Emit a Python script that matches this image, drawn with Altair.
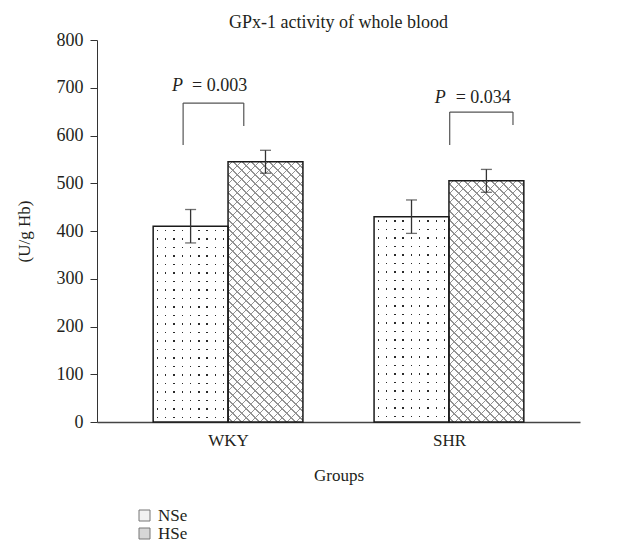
import altair as alt
import pandas as pd

# ---------------- data ----------------
groups = ["WKY", "SHR"]
treatments = ["NSe", "HSe"]
bar_group = ["WKY", "WKY", "SHR", "SHR"]
bar_treat = ["NSe", "HSe", "NSe", "HSe"]
means = [410, 545, 430, 505]
errors = [35, 24, 35, 24]

y_ticks = [0, 100, 200, 300, 400, 500, 600, 700, 800]

# significance annotations (axis units)
p_values = ["= 0.003", "= 0.034"]
bracket_left = [1.15, 4.71]
bracket_right = [1.96, 5.555]
bracket_top = [668, 649]
bracket_left_bottom = [580, 580]
bracket_right_bottom = [620, 622]
p_x = [1.0, 4.51]
eq_x = [1.27, 4.79]
p_y = [693, 668]

# ---------------- layout / style ----------------
group_centers = [1.75, 4.70]
x_max = 6.45
bar_width = 1.0
W, H = 483, 382
FONT = "Liberation Serif"
TXT = "#231f20"
px_x = W / x_max
px_y = H / 800.0

rows = []
for g, t, m, e in zip(bar_group, bar_treat, means, errors):
    gi = groups.index(g)
    ti = treatments.index(t)
    x1 = group_centers[gi] + (ti - 1) * bar_width
    rows.append({"group": g, "treatment": t, "mean": m, "err": e,
                 "x1": x1, "x2": x1 + bar_width, "mid": x1 + bar_width / 2})
bars = pd.DataFrame(rows)

xs = alt.Scale(domain=[0, x_max], nice=False, zero=False)
ys = alt.Scale(domain=[0, 800], nice=False, zero=True)

label_expr = f"datum.value < {(group_centers[0] + group_centers[1]) / 2} ? '{groups[0]}' : '{groups[1]}'"
x_axis = alt.Axis(values=group_centers, labelExpr=label_expr, title="Groups",
                  ticks=False, grid=False, domainColor="#444", domainWidth=1.5,
                  labelFont=FONT, labelFontSize=17, labelColor=TXT, labelPadding=10,
                  titleFont=FONT, titleFontSize=17, titleFontWeight="normal",
                  titleColor=TXT, titlePadding=19)
y_axis = alt.Axis(values=y_ticks, title="(U/g Hb)", grid=False, tickSize=7,
                  tickColor="#333", domainColor="#333", labelFont=FONT,
                  labelFontSize=18, labelColor=TXT, labelPadding=7,
                  titleFont=FONT, titleFontSize=17, titleFontWeight="normal",
                  titleColor=TXT, titlePadding=23)


def X(field):
    return alt.X(field, type="quantitative", scale=xs, axis=x_axis)


def Y(field):
    return alt.Y(field, type="quantitative", scale=ys, axis=y_axis)


def r5(v):
    return round(v, 5)


def hatch(w, h, direction, period=9.0, lw=1.3, line="#939393", bg="#ffffff"):
    L = w + h
    k = L / (w * w + h * h)
    a, b = k * w, k * h
    if direction > 0:
        x1, y1, x2, y2 = 0, 0, a, b
    else:
        x1, y1, x2, y2 = 0, 1, a, 1 - b
    stops = [{"offset": 0, "color": bg}]
    c = period / 2
    while c < L:
        o1 = r5(max(0.0, (c - lw / 2) / L))
        o2 = r5(min(1.0, (c + lw / 2) / L))
        stops += [{"offset": o1, "color": bg}, {"offset": o1, "color": line},
                  {"offset": o2, "color": line}, {"offset": o2, "color": bg}]
        c += period
    stops.append({"offset": 1, "color": bg})
    return {"gradient": "linear", "x1": r5(x1), "y1": r5(y1), "x2": r5(x2),
            "y2": r5(y2), "stops": stops}


def gaps(size, vertical, period, d=1.4, cover="#ffffff"):
    clear = "rgba(255,255,255,0)"
    stops = [{"offset": 0, "color": cover}]
    c = period / 2
    while c < size:
        o1 = r5(max(0.0, (c - d / 2) / size))
        o2 = r5(min(1.0, (c + d / 2) / size))
        stops += [{"offset": o1, "color": cover}, {"offset": o1, "color": clear},
                  {"offset": o2, "color": clear}, {"offset": o2, "color": cover}]
        c += period
    stops.append({"offset": 1, "color": cover})
    if vertical:
        return {"gradient": "linear", "x1": 0, "y1": 0, "x2": 1, "y2": 0, "stops": stops}
    return {"gradient": "linear", "x1": 0, "y1": 0, "x2": 0, "y2": 1, "stops": stops}


def bar_layer(df, **mark):
    return alt.Chart(df).mark_bar(**mark).encode(
        x=X("x1"), x2="x2", y=Y("mean"), y2=alt.datum(0))


# legend-carrying layer (covered by the pattern layers)
legend_layer = alt.Chart(bars).mark_bar().encode(
    x=X("x1"), x2="x2", y=Y("mean"), y2=alt.datum(0),
    fill=alt.Fill("treatment:N",
                  scale=alt.Scale(domain=treatments, range=["#f1f1f1", "#d6d6d6"]),
                  legend=alt.Legend(orient="none", legendX=39, legendY=467,
                                    title=None, symbolType="square", symbolSize=121,
                                    symbolStrokeColor="#777", symbolStrokeWidth=1,
                                    labelFont=FONT, labelFontSize=17, labelColor=TXT,
                                    labelOffset=5, rowPadding=0, padding=0)))

layers = [legend_layer]
for i in range(len(bars)):
    one = bars.iloc[[i]]
    w_px = bar_width * px_x
    h_px = bars["mean"].iloc[i] * px_y
    if bars["treatment"].iloc[i] == treatments[0]:
        layers.append(bar_layer(one, fill="#2a2a2a"))
        layers.append(bar_layer(one, fill=gaps(w_px, True, 8.3)))
        layers.append(bar_layer(one, fill=gaps(h_px, False, 8.5)))
    else:
        layers.append(bar_layer(one, fill=hatch(w_px, h_px, 1)))
        layers.append(bar_layer(one, fill=hatch(w_px, h_px, -1, bg="rgba(255,255,255,0)")))

outline = bar_layer(bars, fill="transparent", stroke="#1a1a1a", strokeWidth=1.5)
layers.append(outline)

err_base = alt.Chart(bars).transform_calculate(
    lo="datum.mean - datum.err", hi="datum.mean + datum.err")
err_rule = err_base.mark_rule(color="#333", strokeWidth=1.3).encode(
    x=X("mid"), y=Y("lo:Q"), y2="hi:Q")
err_top = err_base.mark_tick(orient="horizontal", size=11, thickness=1.3, color="#333").encode(
    x=X("mid"), y=Y("hi:Q"))
err_bot = err_base.mark_tick(orient="horizontal", size=11, thickness=1.3, color="#333").encode(
    x=X("mid"), y=Y("lo:Q"))
layers += [err_rule, err_top, err_bot]

br = pd.DataFrame({"bl": bracket_left, "brr": bracket_right, "bt": bracket_top,
                   "lb": bracket_left_bottom, "rb": bracket_right_bottom,
                   "px": p_x, "ex": eq_x, "py": p_y, "ptxt": p_values})
br_top = alt.Chart(br).mark_rule(color="#555", strokeWidth=1.2).encode(
    x=X("bl"), x2="brr", y=Y("bt"))
br_left = alt.Chart(br).mark_rule(color="#555", strokeWidth=1.2).encode(
    x=X("bl"), y=Y("lb"), y2="bt")
br_right = alt.Chart(br).mark_rule(color="#555", strokeWidth=1.2).encode(
    x=X("brr"), y=Y("rb"), y2="bt")
p_italic = alt.Chart(br).mark_text(text="P", fontStyle="italic", font=FONT, fontSize=18,
                                   align="left", baseline="alphabetic", color=TXT).encode(
    x=X("px"), y=Y("py"))
p_rest = alt.Chart(br).mark_text(font=FONT, fontSize=18, align="left",
                                 baseline="alphabetic", color=TXT).encode(
    x=X("ex"), y=Y("py"), text="ptxt:N")
layers += [br_top, br_left, br_right, p_italic, p_rest]

chart = alt.layer(*layers).properties(
    width=W, height=H,
    padding={"left": 89, "top": 32, "right": 36, "bottom": 125},
    autosize=alt.AutoSizeParams(type="none"),
    title=alt.TitleParams("GPx-1 activity of whole blood", font=FONT, fontSize=18,
                          fontWeight="normal", color=TXT, anchor="middle", offset=-1),
).configure_view(stroke=None)

chart.save("out.html", embed_options={"renderer": "svg", "actions": False})
